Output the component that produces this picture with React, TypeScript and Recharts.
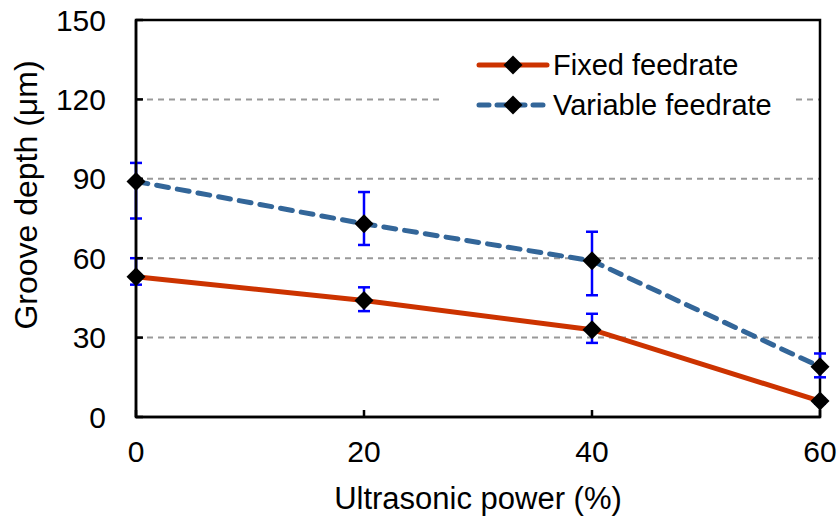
import React from "react";
import {
  LineChart,
  Line,
  XAxis,
  YAxis,
  CartesianGrid,
  ErrorBar,
  Legend,
  ReferenceArea,
} from "recharts";

const power = [0, 20, 40, 60];
const fixedDepth = [53, 44, 33, 6];
const fixedErrLow = [3, 4, 5, 1];
const fixedErrHigh = [7, 5, 6, 1];
const variableDepth = [89, 73, 59, 19];
const variableErrLow = [14, 8, 13, 4];
const variableErrHigh = [7, 12, 11, 5];
const xTicks = [0, 20, 40, 60];
const yTicks = [0, 30, 60, 90, 120, 150];

const FONT = "'Liberation Sans', Arial, sans-serif";
const RED = "#CC3300";
const BLUE = "#336699";

const data = power.map((p, i) => ({
  power: p,
  fixed: fixedDepth[i],
  fixedErr: [fixedErrLow[i], fixedErrHigh[i]],
  variable: variableDepth[i],
  variableErr: [variableErrLow[i], variableErrHigh[i]],
}));

// black diamond marker
const Diamond = (props: any) => {
  const { cx, cy } = props;
  if (cx == null || cy == null) return null;
  const r = 9.5;
  return (
    <polygon
      points={`${cx},${cy - r} ${cx + r},${cy} ${cx},${cy + r} ${cx - r},${cy}`}
      fill="#000"
    />
  );
};

// x tick labels sit well below the axis, like the original
const XTick = (props: any) => {
  const { x, payload } = props;
  return (
    <text
      x={x}
      y={462}
      textAnchor="middle"
      fontSize={30}
      fontFamily={FONT}
      fill="#000"
    >
      {payload.value}
    </text>
  );
};

const legendItems = [
  { name: "Fixed feedrate", color: RED, dash: undefined },
  { name: "Variable feedrate", color: BLUE, dash: "10 8" },
];

const renderLegend = () => (
  <div style={{ background: "#fff", padding: "2px 0 4px 34px" }}>
    {legendItems.map((item) => (
      <div
        key={item.name}
        style={{ display: "flex", alignItems: "center", height: 40 }}
      >
        <svg width={78} height={24}>
          <line
            x1={4}
            y1={12}
            x2={72}
            y2={12}
            stroke={item.color}
            strokeWidth={5}
            strokeDasharray={item.dash}
            strokeLinecap="round"
          />
          <Diamond cx={38} cy={12} />
        </svg>
        <span style={{ fontFamily: FONT, fontSize: 29, color: "#000" }}>
          {item.name}
        </span>
      </div>
    ))}
  </div>
);

export default function App() {
  return (
    <div style={{ position: "absolute", left: 0, top: 0, background: "#fff" }}>
      <LineChart
        width={840}
        height={520}
        data={data}
        margin={{ top: 20, right: 20, bottom: 0, left: 0 }}
      >
        <CartesianGrid
          horizontal
          vertical={false}
          stroke="#999"
          strokeWidth={2}
          strokeDasharray="6 5"
        />
        <XAxis
          dataKey="power"
          type="number"
          domain={[0, 60]}
          ticks={xTicks}
          interval={0}
          height={103}
          stroke="#000"
          strokeWidth={2.5}
          tickSize={-7}
          tick={<XTick />}
          label={({ viewBox }: any) => (
            <text
              x={viewBox.x + viewBox.width / 2}
              y={509}
              textAnchor="middle"
              fontSize={31}
              fontFamily={FONT}
              fill="#000"
            >
              Ultrasonic power (%)
            </text>
          )}
        />
        <YAxis
          type="number"
          domain={[0, 150]}
          ticks={yTicks}
          interval={0}
          width={136}
          stroke="#000"
          strokeWidth={2.5}
          tickSize={-7}
          tickMargin={37}
          tick={{ fill: "#000", fontSize: 30, fontFamily: FONT }}
          label={() => (
            <text
              x={37}
              y={195}
              transform="rotate(-90 37 195)"
              textAnchor="middle"
              fontSize={32}
              fontFamily={FONT}
              fill="#000"
            >
              Groove depth (μm)
            </text>
          )}
        />
        <ReferenceArea
          x1={0}
          x2={60}
          y1={0}
          y2={150}
          fill="none"
          stroke="#000"
          strokeWidth={2.5}
          ifOverflow="visible"
        />
        <Legend
          layout="horizontal"
          verticalAlign="middle"
          align="center"
          content={renderLegend}
          wrapperStyle={{ left: 441, top: 43, width: 352 }}
        />
        <Line
          dataKey="variable"
          stroke={BLUE}
          strokeWidth={5}
          strokeDasharray="12 9"
          strokeLinecap="round"
          dot={<Diamond />}
          activeDot={false}
          isAnimationActive={false}
        >
          <ErrorBar
            dataKey="variableErr"
            direction="y"
            width={6}
            stroke="#0000FF"
            strokeWidth={2.5}
          />
        </Line>
        <Line
          dataKey="fixed"
          stroke={RED}
          strokeWidth={5}
          dot={<Diamond />}
          activeDot={false}
          isAnimationActive={false}
        >
          <ErrorBar
            dataKey="fixedErr"
            direction="y"
            width={6}
            stroke="#0000FF"
            strokeWidth={2.5}
          />
        </Line>
      </LineChart>
    </div>
  );
}
